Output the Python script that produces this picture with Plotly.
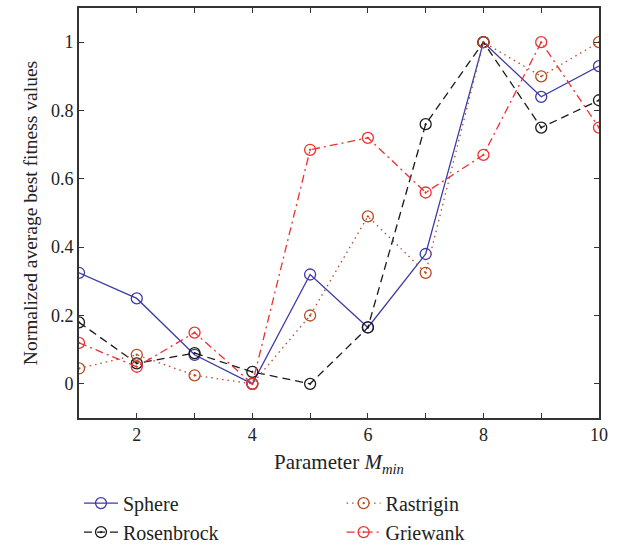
import plotly.graph_objects as go

m_min = [1, 2, 3, 4, 5, 6, 7, 8, 9, 10]
sphere = [0.325, 0.25, 0.085, 0.0, 0.32, 0.165, 0.38, 1.0, 0.84, 0.93]
rosenbrock = [0.18, 0.06, 0.09, 0.035, 0.0, 0.165, 0.76, 1.0, 0.75, 0.83]
rastrigin = [0.045, 0.085, 0.025, 0.0, 0.2, 0.49, 0.325, 1.0, 0.90, 1.0]
griewank = [0.12, 0.05, 0.15, 0.0, 0.685, 0.72, 0.56, 0.67, 1.0, 0.75]

x_tickvals = [2, 4, 6, 8, 10]
x_ticktext = ["2", "4", "6", "8", "10"]
y_tickvals = [0, 0.2, 0.4, 0.6, 0.8, 1.0]
y_ticktext = ["0", "0.2", "0.4", "0.6", "0.8", "1"]

FONT = "Liberation Serif"
TXT = "#222222"

fig = go.Figure()
fig.add_trace(go.Scatter(x=m_min, y=sphere, name="Sphere", mode="lines+markers",
                         line=dict(color="#3c3ca6", width=1.3, dash="solid"),
                         marker=dict(symbol="circle-open", size=11, color="#3c3ca6", line=dict(width=1.3)),
                         legend="legend"))
fig.add_trace(go.Scatter(x=m_min, y=rosenbrock, name="Rosenbrock", mode="lines+markers",
                         line=dict(color="#1a1a1a", width=1.3, dash="8px,5px"),
                         marker=dict(symbol="circle-open-dot", size=11, color="#1a1a1a", line=dict(width=1.3)),
                         legend="legend"))
fig.add_trace(go.Scatter(x=m_min, y=rastrigin, name="Rastrigin", mode="lines+markers",
                         line=dict(color="#b84a22", width=1.3, dash="1.5px,4px"),
                         marker=dict(symbol="circle-open-dot", size=11, color="#b84a22", line=dict(width=1.3)),
                         legend="legend2"))
fig.add_trace(go.Scatter(x=m_min, y=griewank, name="Griewank", mode="lines+markers",
                         line=dict(color="#ee3030", width=1.3, dash="8px,4px,2px,4px"),
                         marker=dict(symbol="circle-open-dot", size=11, color="#ee3030", line=dict(width=1.3)),
                         legend="legend2"))

axis_common = dict(showline=True, linecolor="#333333", linewidth=1.6, mirror="ticks",
                   ticks="inside", ticklen=5, tickcolor="#333333", tickwidth=1,
                   showgrid=False, zeroline=False,
                   tickfont=dict(family=FONT, size=18, color=TXT))

fig.update_xaxes(range=[1, 10], tickmode="array", tickvals=x_tickvals, ticktext=x_ticktext,
                 minor=dict(tick0=1, dtick=1, ticks="inside", ticklen=5, tickcolor="#333333", tickwidth=1),
                 title=dict(text="Parameter <i>M</i><sub><i>min</i></sub>",
                            font=dict(family=FONT, size=21, color=TXT), standoff=10),
                 **axis_common)
fig.update_yaxes(range=[-0.1, 1.1], tickmode="array", tickvals=y_tickvals, ticktext=y_ticktext,
                 title=dict(text="Normalized average best fitness values",
                            font=dict(family=FONT, size=19.5, color=TXT), standoff=8),
                 **axis_common)

legend_common = dict(orientation="v", xanchor="left", yanchor="top",
                     font=dict(family=FONT, size=20, color=TXT),
                     bgcolor="rgba(0,0,0,0)", tracegroupgap=0, itemwidth=34)

fig.update_layout(
    width=622, height=545,
    margin=dict(l=79, r=23, t=8, b=127, autoexpand=False),
    paper_bgcolor="white", plot_bgcolor="white",
    font=dict(family=FONT, color=TXT),
    legend=dict(x=0.0, y=-0.16, **legend_common),
    legend2=dict(x=0.505, y=-0.16, **legend_common),
)

fig.write_html("out.html")
